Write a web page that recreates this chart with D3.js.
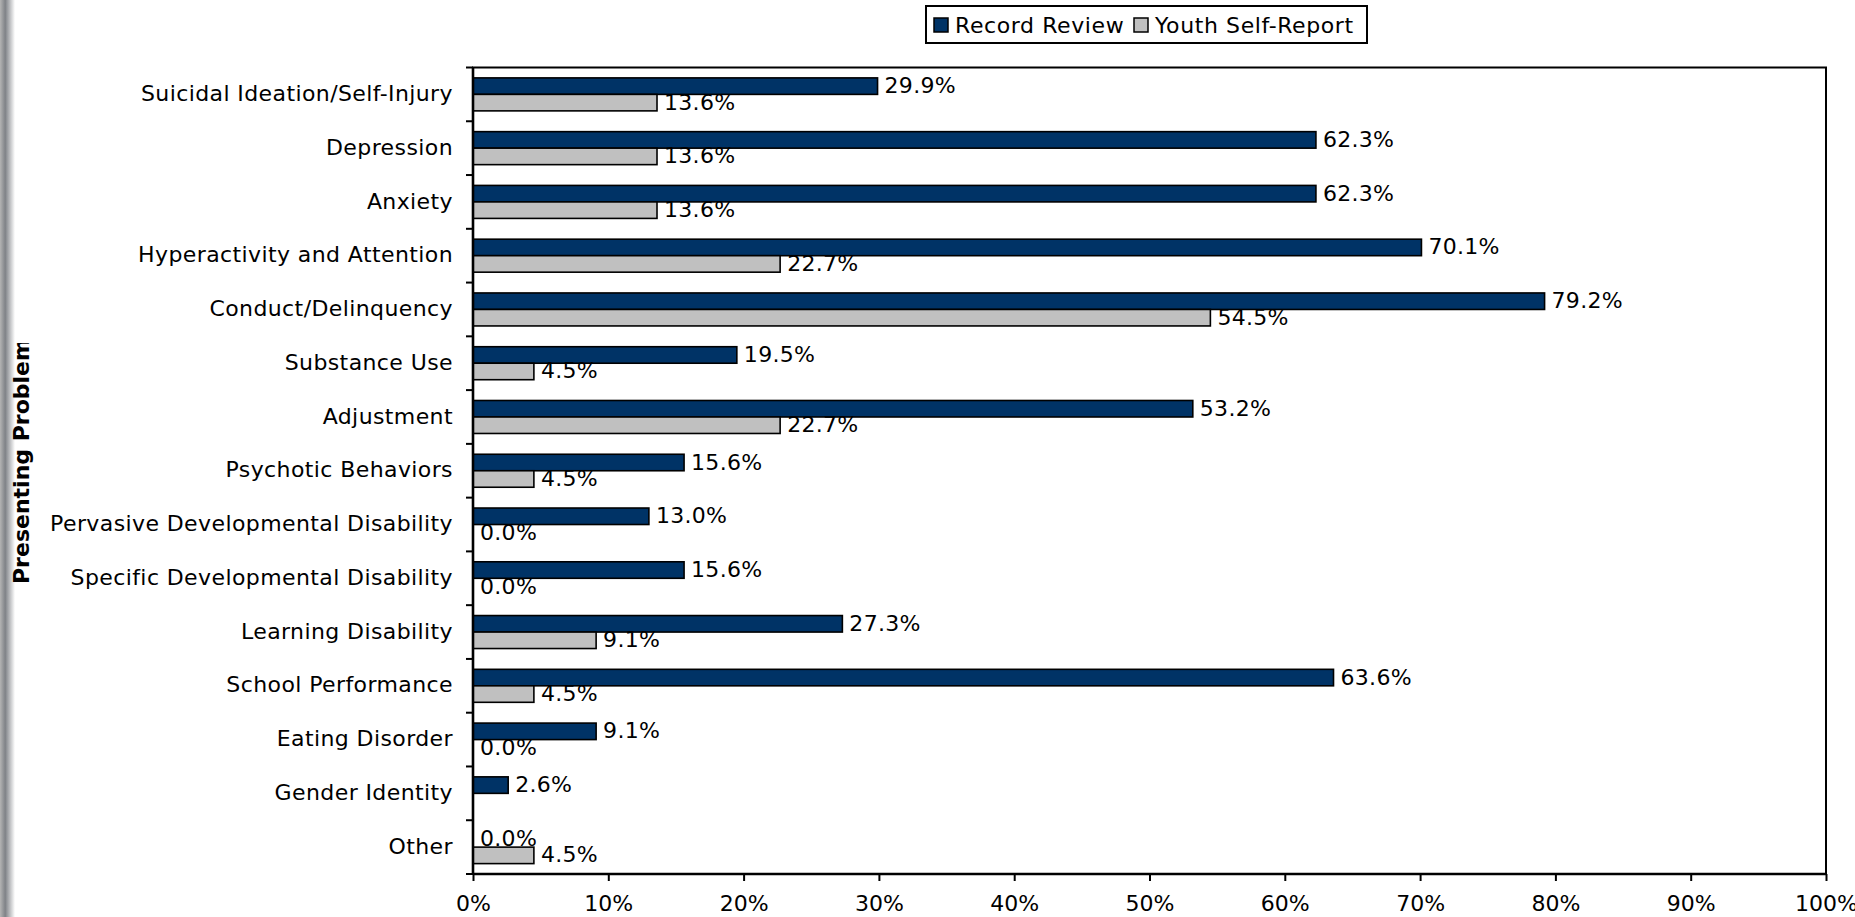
<!DOCTYPE html>
<html>
<head>
<meta charset="utf-8">
<script src="https://cdn.jsdelivr.net/npm/d3@7"></script>
<style>
  body { margin: 0; background: #fff; }
  svg text { font-family: "DejaVu Sans", Verdana, sans-serif; fill: #000; }
</style>
</head>
<body>
<div id="chart"></div>
<script>
// categories, top to bottom
var categories = [
  "Suicidal Ideation/Self-Injury",
  "Depression",
  "Anxiety",
  "Hyperactivity and Attention",
  "Conduct/Delinquency",
  "Substance Use",
  "Adjustment",
  "Psychotic Behaviors",
  "Pervasive Developmental Disability",
  "Specific Developmental Disability",
  "Learning Disability",
  "School Performance",
  "Eating Disorder",
  "Gender Identity",
  "Other"
];
var seriesNames = ["Record Review", "Youth Self-Report"];
var recordReview = [29.9, 62.3, 62.3, 70.1, 79.2, 19.5, 53.2, 15.6, 13.0, 15.6, 27.3, 63.6, 9.1, 2.6, 0.0];
// Gender Identity has no youth value shown
var youthSelfReport = [13.6, 13.6, 13.6, 22.7, 54.5, 4.5, 22.7, 4.5, 0.0, 0.0, 9.1, 4.5, 0.0, null, 4.5];
var xTicks = [0, 10, 20, 30, 40, 50, 60, 70, 80, 90, 100];

var colors = { "Record Review": "#003366", "Youth Self-Report": "#c0c0c0" };

var width = 1855, height = 917;
var margin = { top: 67.5, right: 29, bottom: 43, left: 473 };
var fontSize = 22;

var svg = d3.select("#chart")
  .append("svg")
    .attr("width", width)
    .attr("height", height);

var defs = svg.append("defs");

// soft shadow along left edge
var grad = defs.append("linearGradient")
    .attr("id", "edge")
    .attr("x1", "0").attr("x2", "1").attr("y1", "0").attr("y2", "0");
grad.append("stop").attr("offset", "0%").attr("stop-color", "#b4b4b4");
grad.append("stop").attr("offset", "35%").attr("stop-color", "#7f8287");
grad.append("stop").attr("offset", "100%").attr("stop-color", "#ffffff");
svg.append("rect")
    .attr("x", 0).attr("y", 0)
    .attr("width", 15).attr("height", height)
    .attr("fill", "url(#edge)");

var plotW = width - margin.left - margin.right,
    plotH = height - margin.top - margin.bottom;

var g = svg.append("g")
    .attr("transform", "translate(" + margin.left + "," + margin.top + ")");

var x = d3.scaleLinear().domain([0, 100]).range([0, plotW]);
var y = d3.scaleBand().domain(categories).range([0, plotH]).padding(0);
var ySub = d3.scaleBand().domain(seriesNames).range([0, y.bandwidth()]).paddingOuter(0.63).paddingInner(0);

var rows = categories.map(function(c, i) {
  return { cat: c, values: [
    { series: seriesNames[0], value: recordReview[i] },
    { series: seriesNames[1], value: youthSelfReport[i] }
  ]};
});

// plot border (top / right)
g.append("rect")
    .attr("x", 0).attr("y", 0)
    .attr("width", plotW).attr("height", plotH)
    .attr("fill", "none")
    .attr("stroke", "#000")
    .attr("stroke-width", 2);

var groups = g.selectAll(".row")
  .data(rows)
  .enter().append("g")
    .attr("class", "row")
    .attr("transform", function(d) { return "translate(0," + y(d.cat) + ")"; });

var cells = groups.selectAll(".cell")
  .data(function(d) { return d.values.filter(function(v) { return v.value !== null; }); })
  .enter().append("g")
    .attr("class", "cell");

cells.filter(function(d) { return d.value > 0; })
  .append("rect")
    .attr("x", 0)
    .attr("y", function(d) { return ySub(d.series); })
    .attr("width", function(d) { return x(d.value); })
    .attr("height", ySub.bandwidth())
    .attr("fill", function(d) { return colors[d.series]; })
    .attr("stroke", "#000")
    .attr("stroke-width", 1.6);

cells.append("text")
    .attr("x", function(d) { return x(d.value) + 7; })
    .attr("y", function(d) { return ySub(d.series) + ySub.bandwidth() / 2; })
    .attr("dy", "0.32em")
    .style("font-size", fontSize + "px")
    .style("letter-spacing", "0.3px")
    .text(function(d) { return d.value.toFixed(1) + "%"; });

// x axis
var xAxis = g.append("g")
    .attr("transform", "translate(0," + plotH + ")")
    .call(d3.axisBottom(x).tickValues(xTicks).tickSize(7).tickPadding(14).tickFormat(function(d) { return d + "%"; }));
xAxis.select(".domain").attr("stroke-width", 2.6).attr("d", "M0,0H" + plotW);
xAxis.selectAll(".tick line").attr("stroke-width", 2);
xAxis.selectAll(".tick text").style("font-size", fontSize + "px").attr("fill", "#000");

// y axis: labels at band centres, ticks at band edges
var yAxis = g.append("g")
    .call(d3.axisLeft(y).tickSize(0).tickPadding(20));
yAxis.select(".domain").attr("stroke-width", 2.6).attr("d", "M0,0V" + plotH);
yAxis.selectAll(".tick text")
    .style("font-size", fontSize + "px")
    .style("letter-spacing", "0.4px")
    .attr("dy", "0.3em")
    .attr("fill", "#000");

var edges = categories.map(function(c) { return y(c); }).concat([plotH]);
g.append("g").selectAll("line")
  .data(edges)
  .enter().append("line")
    .attr("x1", -7).attr("x2", 0)
    .attr("y1", function(d) { return d; })
    .attr("y2", function(d) { return d; })
    .attr("stroke", "#000")
    .attr("stroke-width", 2);

// axis title, clipped at the top like the original
defs.append("clipPath").attr("id", "titleClip")
  .append("rect").attr("x", 0).attr("y", 343).attr("width", 60).attr("height", 400);
svg.append("g")
    .attr("clip-path", "url(#titleClip)")
  .append("text")
    .attr("transform", "translate(29,584) rotate(-90)")
    .attr("text-anchor", "start")
    .style("font-size", "22px")
    .style("font-weight", "bold")
    .text("Presenting Problem");

// legend
var legend = svg.append("g").attr("transform", "translate(926,6)");
legend.append("rect")
    .attr("width", 441).attr("height", 37)
    .attr("fill", "#fff")
    .attr("stroke", "#000")
    .attr("stroke-width", 2);

var legendX = [8, 208];
seriesNames.forEach(function(s, i) {
  legend.append("rect")
      .attr("x", legendX[i]).attr("y", 12)
      .attr("width", 14).attr("height", 14)
      .attr("fill", colors[s])
      .attr("stroke", "#000")
      .attr("stroke-width", 1.5);
  legend.append("text")
      .attr("x", legendX[i] + 21).attr("y", 27)
      .style("font-size", fontSize + "px")
      .style("letter-spacing", "0.6px")
      .text(s);
});
</script>
</body>
</html>
